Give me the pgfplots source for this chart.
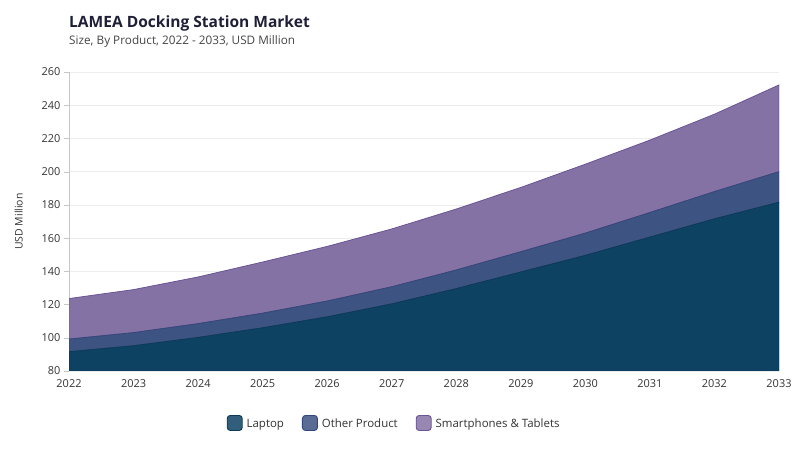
\documentclass[border=0pt]{standalone}
\usepackage{pgfplots}
\pgfplotsset{compat=1.18}
\usepackage{fontspec}
\setmainfont{Open Sans}

\definecolor{laptopfill}{HTML}{0E4263}
\definecolor{laptopline}{HTML}{0A3A58}
\definecolor{otherfill}{HTML}{3D5382}
\definecolor{otherline}{HTML}{33477A}
\definecolor{smartfill}{HTML}{8572A5}
\definecolor{smartline}{HTML}{6A5494}
\definecolor{titlecol}{HTML}{1F1F38}
\definecolor{subcol}{HTML}{444444}
\definecolor{tickcol}{HTML}{333333}

\begin{document}
\begin{tikzpicture}
\path[use as bounding box] (0bp,0bp) rectangle (800bp,450bp);

\node[anchor=base west, inner sep=0pt, text=titlecol,
      font=\bfseries\fontsize{15.6}{18}\selectfont] at (69bp,422bp)
  {LAMEA Docking Station Market};
\node[anchor=base west, inner sep=0pt, text=subcol,
      font=\fontsize{11.8}{13}\selectfont] at (69bp,405bp)
  {Size, By Product, 2022 - 2033, USD Million};

\begin{axis}[
  at={(69bp,79bp)}, anchor=south west,
  width=710bp, height=299bp, scale only axis,
  xmin=2022, xmax=2033,
  ymin=80, ymax=260,
  xtick={2022,2023,...,2033},
  ytick={80,100,...,260},
  x tick label style={/pgf/number format/1000 sep={}},
  /pgf/number format/assume math mode=true,
  tick label style={font=\fontsize{11}{13}\selectfont, text=tickcol},
  axis lines=left,
  x axis line style={draw=none, -},
  y axis line style={draw=black!22, -},
  xtick style={draw=none},
  ytick style={draw=black!22},
  tick align=outside,
  major tick length=5bp,
  ymajorgrids,
  grid style={draw=black!7},
  ylabel={USD Million},
  ylabel shift=12bp,
  ylabel style={font=\fontsize{10.5}{12}\selectfont, text=tickcol},
  stack plots=y,
  legend columns=3,
  legend cell align=left,
  legend style={at={(0.458,-0.174)}, anchor=center, draw=none,
    font=\fontsize{11.5}{13}\selectfont, text=tickcol,
    /tikz/every odd column/.append style={column sep=2bp},
    /tikz/every even column/.append style={column sep=16bp}},
  legend image code/.code={%
    \draw[#1, fill opacity=0.85, line width=0.9bp, rounded corners=3bp]
      (0bp,-6.5bp) rectangle (15bp,8.5bp);},
]

% Laptop
\addplot[fill=laptopfill, draw=laptopline, line width=0.8bp] coordinates {
(2022,91.6)(2023,95.2)(2024,100.2)(2025,106.0)(2026,112.6)(2027,120.4)
(2028,129.6)(2029,139.6)(2030,149.6)(2031,160.6)(2032,171.6)(2033,181.6)
} \closedcycle;
\addlegendentry{Laptop}

% Other Product
\addplot[fill=otherfill, draw=otherline, line width=0.8bp] coordinates {
(2022,7.6)(2023,7.9)(2024,8.3)(2025,8.8)(2026,9.5)(2027,10.3)
(2028,11.2)(2029,12.2)(2030,13.4)(2031,14.8)(2032,16.4)(2033,18.4)
} \closedcycle;
\addlegendentry{Other Product}

% Smartphones & Tablets
\addplot[fill=smartfill, draw=smartline, line width=0.8bp] coordinates {
(2022,24.4)(2023,25.9)(2024,28.1)(2025,30.8)(2026,32.9)(2027,34.8)
(2028,36.7)(2029,38.7)(2030,41.5)(2031,43.6)(2032,46.6)(2033,52.2)
} \closedcycle;
\addlegendentry{Smartphones \& Tablets}

\end{axis}
\end{tikzpicture}
\end{document}
